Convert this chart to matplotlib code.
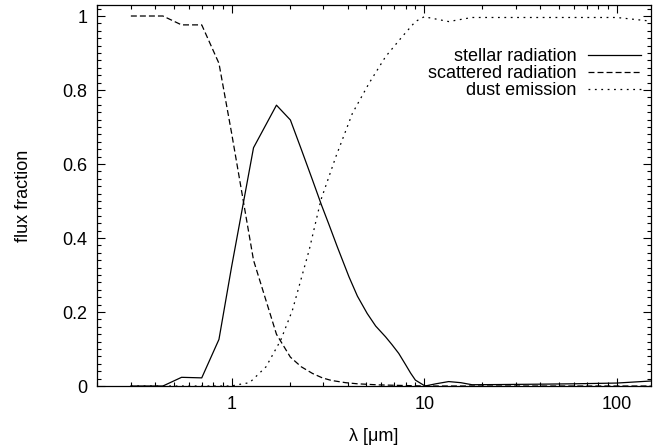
import numpy as np
import matplotlib.pyplot as plt
from matplotlib.ticker import LogLocator, MultipleLocator, FixedFormatter, FixedLocator

plt.rcParams['font.family'] = ['Liberation Sans', 'DejaVu Sans']
plt.rcParams['lines.scale_dashes'] = False

# stellar radiation
lam_star = [0.30, 0.44, 0.55, 0.70, 0.86, 1.00, 1.30, 1.71, 2.02, 2.30, 2.63, 2.93, 3.20, 3.54,
            4.07, 4.50, 5.06, 5.60, 6.30, 6.80, 7.38, 8.0, 8.5, 9.0, 10.1, 11.5, 13.4, 15.5,
            17.7, 25, 40, 60, 100, 150]
f_star = [0.0, 0.0, 0.0235, 0.022, 0.126, 0.322, 0.644, 0.759, 0.719, 0.640, 0.557, 0.489,
          0.437, 0.376, 0.295, 0.243, 0.196, 0.162, 0.133, 0.112, 0.088, 0.058, 0.035, 0.016,
          0.0, 0.006, 0.012, 0.009, 0.0035, 0.004, 0.005, 0.006, 0.008, 0.0135]

# scattered radiation
lam_scat = [0.30, 0.44, 0.55, 0.70, 0.86, 1.00, 1.30, 1.71, 2.02, 2.30, 2.63, 2.96, 3.30,
            3.91, 4.50, 5.82, 7.0, 10.0, 150]
f_scat = [1.0, 1.0, 0.976, 0.976, 0.872, 0.684, 0.34, 0.14, 0.078, 0.052, 0.034, 0.022,
          0.015, 0.009, 0.006, 0.003, 0.002, 0.0, 0.0]

# dust emission
lam_dust = [0.30, 0.86, 1.00, 1.06, 1.24, 1.51, 1.80, 2.07, 2.53, 2.91, 3.48, 4.24, 5.17,
            6.30, 7.68, 9.0, 10.0, 13.4, 17.7, 100, 145]
f_dust = [0.0, 0.0, 0.0, 0.003, 0.009, 0.052, 0.124, 0.205, 0.368, 0.503, 0.62, 0.737,
          0.818, 0.89, 0.944, 0.985, 0.998, 0.985, 0.996, 0.996, 0.987]

fig = plt.figure(figsize=(6.64, 4.46), dpi=100)
ax = fig.add_axes([0.146, 0.1345, 0.834, 0.8545])

ax.plot(lam_star, f_star, color='black', lw=0.9, label='stellar radiation')
ax.plot(lam_scat, f_scat, color='black', lw=0.9, dashes=(4.3, 2.2), label='scattered radiation')
ax.plot(lam_dust, f_dust, color='black', lw=0.9, dashes=(1.3, 3.3), label='dust emission')

ax.set_xscale('log')
ax.set_xlim(0.2, 150)
ax.set_ylim(0, 1.03)

ax.xaxis.set_major_locator(FixedLocator([1, 10, 100]))
ax.xaxis.set_major_formatter(FixedFormatter(['1', '10', '100']))
ax.xaxis.set_minor_locator(LogLocator(base=10, subs=np.arange(2, 10), numticks=20))
ax.xaxis.set_minor_formatter(FixedFormatter([]))
ax.yaxis.set_major_locator(MultipleLocator(0.2))
ax.yaxis.set_minor_locator(MultipleLocator(0.02))
ax.set_yticks([0, 0.2, 0.4, 0.6, 0.8, 1.0])
ax.set_yticklabels(['0', '0.2', '0.4', '0.6', '0.8', '1'])

ax.tick_params(which='both', direction='in', top=True, right=True, labelsize=13, width=0.8)
ax.tick_params(which='major', length=6, pad=7)
ax.tick_params(which='minor', length=3)
for s in ax.spines.values():
    s.set_linewidth(0.9)

ax.set_xlabel('λ [μm]', fontsize=13, labelpad=11)
ax.set_ylabel('flux fraction', fontsize=13, labelpad=22)

leg = ax.legend(loc='upper right', bbox_to_anchor=(0.995, 0.905), frameon=False, fontsize=13,
                markerfirst=False, handlelength=2.9, handletextpad=0.65, labelspacing=0.0,
                borderaxespad=0)
for t in leg.get_texts():
    t.set_ha('right')

fig.savefig('out.png', dpi=100)
